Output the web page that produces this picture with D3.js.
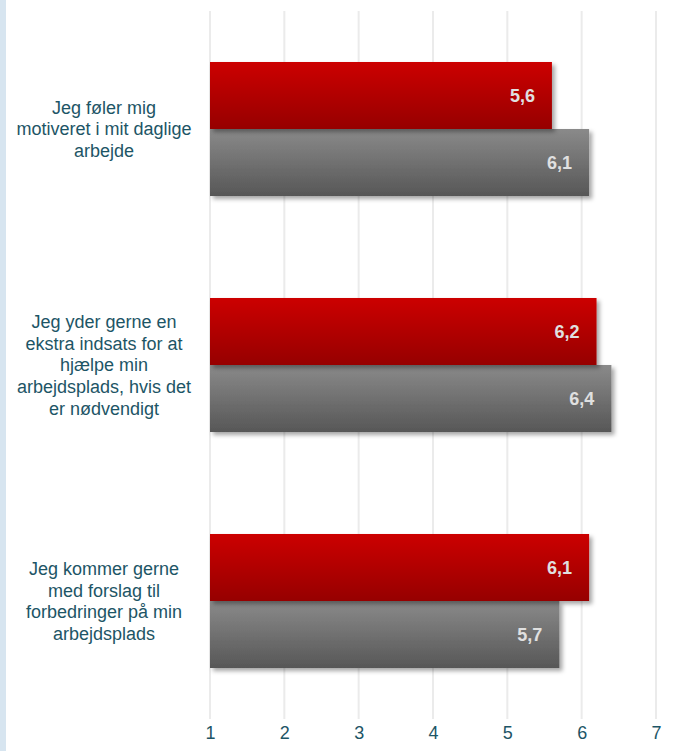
<!DOCTYPE html>
<html>
<head>
<meta charset="utf-8">
<script src="https://cdn.jsdelivr.net/npm/d3@7"></script>
<style>
  html, body { margin: 0; padding: 0; background: #ffffff; }
  svg { display: block; }
</style>
</head>
<body>
<svg id="chart" width="675" height="751"></svg>
<script>
// Statements (label lines) and scores on a 1–7 scale
const categories = [
  ["Jeg føler mig", "motiveret i mit daglige", "arbejde"],
  ["Jeg yder gerne en", "ekstra indsats for at", "hjælpe min", "arbejdsplads, hvis det", "er nødvendigt"],
  ["Jeg kommer gerne", "med forslag til", "forbedringer på min", "arbejdsplads"]
];
const seriesNames = ["red", "grey"];
const redValues = [5.6, 6.2, 6.1];
const greyValues = [6.1, 6.4, 5.7];
const tickValues = [1, 2, 3, 4, 5, 6, 7];

const svg = d3.select("#chart");
const W = 675, H = 751;

// Thin pale-blue strip along the left edge
svg.append("rect").attr("x", 0).attr("y", 0).attr("width", 6).attr("height", H).attr("fill", "#d7e5f0");

const defs = svg.append("defs");
const gradRed = defs.append("linearGradient").attr("id", "gRed").attr("x1", 0).attr("y1", 0).attr("x2", 0).attr("y2", 1);
gradRed.append("stop").attr("offset", "0%").attr("stop-color", "#cc0000");
gradRed.append("stop").attr("offset", "100%").attr("stop-color", "#960000");
const gradGrey = defs.append("linearGradient").attr("id", "gGrey").attr("x1", 0).attr("y1", 0).attr("x2", 0).attr("y2", 1);
gradGrey.append("stop").attr("offset", "0%").attr("stop-color", "#8a8a8a");
gradGrey.append("stop").attr("offset", "100%").attr("stop-color", "#575757");
const shadow = defs.append("filter").attr("id", "shadow").attr("x", "-10%").attr("y", "-10%").attr("width", "130%").attr("height", "140%");
shadow.append("feDropShadow").attr("dx", 3).attr("dy", 3).attr("stdDeviation", 2.2)
  .attr("flood-color", "#000").attr("flood-opacity", 0.35);

const x = d3.scaleLinear().domain([1, 7]).range([210, 656]);
const idx = categories.map((d, i) => i);
const y = d3.scaleBand().domain(idx).range([11, 719]).paddingInner(0).paddingOuter(0);
const ySub = d3.scaleBand().domain(seriesNames).range([0, y.bandwidth()]).paddingInner(0).paddingOuter(0.761);

// Vertical gridlines
svg.append("g").selectAll("line").data(tickValues).join("line")
  .attr("x1", d => x(d)).attr("x2", d => x(d))
  .attr("y1", 11).attr("y2", 719)
  .attr("stroke", "#ebebeb").attr("stroke-width", 2);

// Axis tick labels along the bottom
const axis = d3.axisBottom(x).tickValues(tickValues).tickFormat(d3.format("d")).tickSize(0).tickPadding(0);
const axG = svg.append("g").attr("transform", "translate(0,726)").call(axis);
axG.select(".domain").remove();
axG.selectAll("text")
  .attr("dy", "0.71em")
  .attr("font-family", "Liberation Sans, Arial, sans-serif")
  .attr("font-size", 18)
  .attr("fill", "#1d5566");

const fmt = v => d3.format(".1f")(v).replace(".", ",");

const rows = idx.map(i => ({ i, vals: [
  { s: "red", v: redValues[i], fill: "url(#gRed)" },
  { s: "grey", v: greyValues[i], fill: "url(#gGrey)" }
]}));

const groups = svg.append("g").selectAll("g").data(rows).join("g")
  .attr("transform", d => `translate(0,${y(d.i)})`);

// Bars (grey drawn first so the red bar's shadow sits on top of it where they meet)
const order = ["grey", "red"];
groups.selectAll("rect").data(d => d.vals.slice().sort((a, b) => order.indexOf(a.s) - order.indexOf(b.s))).join("rect")
  .attr("x", x(1))
  .attr("y", d => ySub(d.s))
  .attr("width", d => x(d.v) - x(1))
  .attr("height", ySub.bandwidth())
  .attr("fill", d => d.fill)
  .attr("filter", "url(#shadow)");

// Value labels inside bar ends
groups.selectAll("text.val").data(d => d.vals).join("text")
  .attr("class", "val")
  .attr("x", d => x(d.v) - 17)
  .attr("y", d => ySub(d.s) + ySub.bandwidth() / 2)
  .attr("dy", "0.36em")
  .attr("text-anchor", "end")
  .attr("font-family", "Liberation Sans, Arial, sans-serif")
  .attr("font-weight", "bold")
  .attr("font-size", 18)
  .attr("fill", "#e0e0e0")
  .text(d => fmt(d.v));

// Category labels, centred left of the bars
const lineH = 21.6;
groups.append("text")
  .attr("font-family", "Liberation Sans, Arial, sans-serif")
  .attr("font-size", 18)
  .attr("fill", "#1d5566")
  .attr("text-anchor", "middle")
  .each(function(d) {
    const lines = categories[d.i];
    const cy = y.bandwidth() / 2;
    const start = cy - (lines.length - 1) * lineH / 2;
    d3.select(this).selectAll("tspan").data(lines).join("tspan")
      .attr("x", 104)
      .attr("y", (l, k) => start + k * lineH)
      .attr("dy", "0.36em")
      .text(l => l);
  });
</script>
</body>
</html>
